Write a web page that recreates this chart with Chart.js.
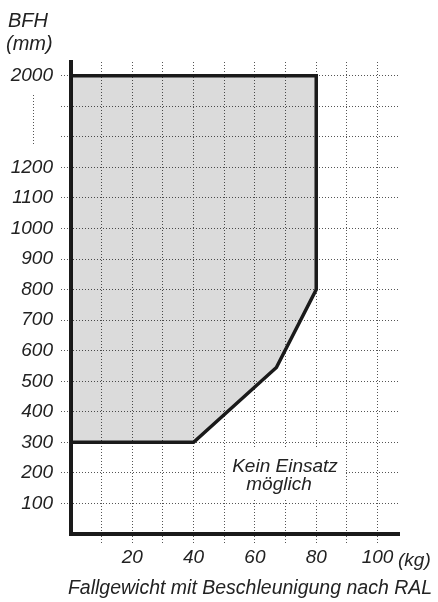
<!DOCTYPE html>
<html><head><meta charset="utf-8">
<script src="https://cdn.jsdelivr.net/npm/chart.js@4/dist/chart.umd.min.js"></script>
<style>html,body{margin:0;padding:0;background:#fff}</style>
</head><body>
<canvas id="c" width="438" height="602"></canvas>
<script>
// ---- data ----
const weightKg = [0, 40, 67, 80, 80, 0];          // Fallgewicht (kg)
const heightMm = [300, 300, 545, 800, 2000, 2000]; // BFH (mm)
const xTickValues = [10, 20, 30, 40, 50, 60, 70, 80, 90, 100];
const xTickLabels = ['', '20', '', '40', '', '60', '', '80', '', '100'];
const yTickValues = [100, 200, 300, 400, 500, 600, 700, 800, 900, 1000, 1100, 1200, 2000];
const yTickLabels = ['100','200','300','400','500','600','700','800','900','1000','1100','1200','2000'];
const yBreakFrom = 1200, yBreakTo = 2000;  // broken axis: 1200 … 2000 compressed
const yGapLines = [1300, 1400];            // unlabeled grid lines inside the break (axis units)

// map a real BFH value onto the (broken) axis
function mapY(v) { return v <= yBreakFrom ? v : yBreakFrom + (v - yBreakFrom) * 300 / (yBreakTo - yBreakFrom); }

const FONT = "'Liberation Sans', Arial, Helvetica, sans-serif";
const TXT = '#222';
const GRID = '#555';

const points = weightKg.map((x, i) => ({ x, y: mapY(heightMm[i]) }));
const yAxisTicks = yTickValues.map(mapY).concat(yGapLines).sort((a, b) => a - b);
const yLabelOf = {};
yTickValues.forEach((v, i) => { yLabelOf[mapY(v)] = yTickLabels[i]; });

const textPlugin = {
  id: 'texts',
  afterDraw(chart) {
    const ctx = chart.ctx;
    ctx.save();
    ctx.fillStyle = TXT;
    ctx.font = 'italic 20px ' + FONT;
    ctx.textAlign = 'left';
    ctx.textBaseline = 'alphabetic';
    ctx.fillText('BFH', 8, 27);
    ctx.fillText('(mm)', 6, 50);
    // dotted break marker between 2000 and 1200 labels
    ctx.strokeStyle = GRID; ctx.lineWidth = 1; ctx.setLineDash([1, 2]);
    ctx.beginPath(); ctx.moveTo(33.5, 95); ctx.lineTo(33.5, 144); ctx.stroke();
    ctx.setLineDash([]);
    // unit on x axis
    ctx.font = 'italic 19px ' + FONT;
    ctx.fillText('(kg)', 398, 566);
    // axis title
    ctx.textAlign = 'center';
    ctx.font = 'italic 19.5px ' + FONT;
    ctx.fillText('Fallgewicht mit Beschleunigung nach RAL', 250, 594);
    // annotation
    ctx.fillStyle = '#fff';
    ctx.fillRect(225, 449, 119, 51);
    ctx.fillStyle = TXT;
    ctx.font = 'italic 19px ' + FONT;
    ctx.fillText('Kein Einsatz', 285, 472);
    ctx.fillText('möglich', 279, 490);
    ctx.restore();
  }
};

new Chart(document.getElementById('c'), {
  type: 'line',
  data: {
    datasets: [{
      data: points,
      borderColor: '#1a1a1a',
      borderWidth: 3.5,
      borderJoinStyle: 'miter',
      backgroundColor: 'rgba(0,0,0,0.14)',
      fill: 'shape',
      pointRadius: 0,
      tension: 0,
      clip: false
    }]
  },
  options: {
    responsive: false,
    animation: false,
    events: [],
    layout: { padding: { top: 62, right: 39, left: 0, bottom: 0 } },
    plugins: { legend: { display: false }, tooltip: { enabled: false } },
    scales: {
      x: {
        type: 'linear', min: 0, max: 107,
        afterBuildTicks(s) { s.ticks = xTickValues.map(v => ({ value: v })); },
        afterFit(s) { s.height = 68; },
        ticks: {
          autoSkip: false, maxRotation: 0, padding: 3,
          color: TXT, font: { family: FONT, size: 19, style: 'italic' },
          callback(v) { const i = xTickValues.indexOf(v); return i >= 0 ? xTickLabels[i] : ''; }
        },
        grid: { color: GRID, lineWidth: 1, tickLength: 9, tickColor: GRID, tickBorderDash: [1, 2] },
        border: { display: true, color: '#1a1a1a', width: 4, dash: [1, 2] }
      },
      y: {
        type: 'linear', min: 0, max: 1545,
        afterBuildTicks(s) { s.ticks = yAxisTicks.map(v => ({ value: v })); },
        afterFit(s) { s.width = 71; },
        ticks: {
          autoSkip: false, padding: 8,
          color: TXT, font: { family: FONT, size: 19, style: 'italic' },
          callback(v) { return yLabelOf[v] !== undefined ? yLabelOf[v] : ''; }
        },
        grid: { color: GRID, lineWidth: 1, tickLength: 10, tickColor: GRID, tickBorderDash: [1, 2] },
        border: { display: true, color: '#1a1a1a', width: 4, dash: [1, 2] }
      }
    }
  },
  plugins: [textPlugin]
});
</script>
</body></html>
